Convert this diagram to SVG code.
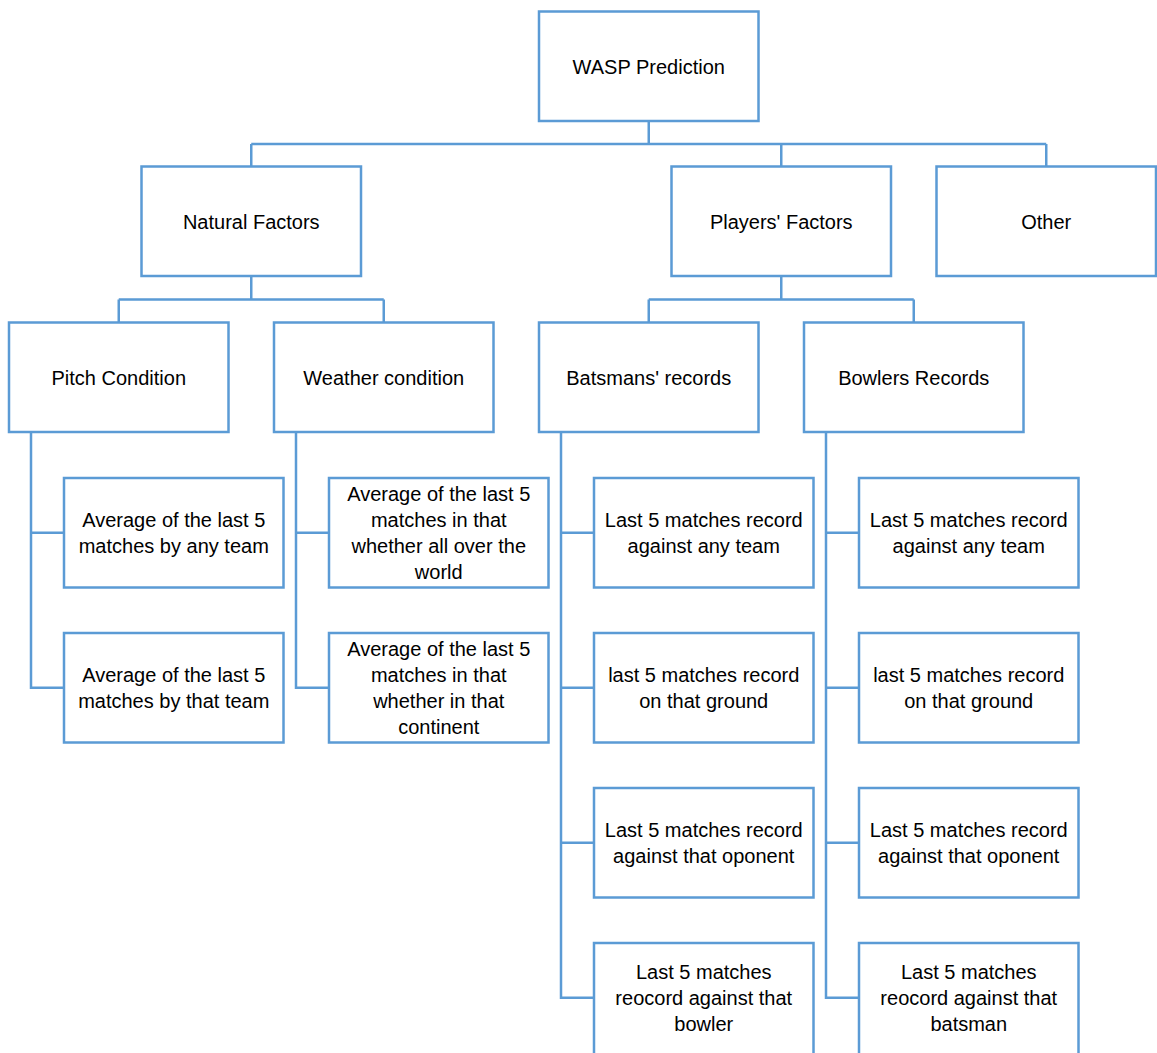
<svg xmlns="http://www.w3.org/2000/svg" width="1157" height="1053" viewBox="0 0 1157 1053">
<style>
.box{fill:#fff;stroke:#5B9BD5;stroke-width:2.5}
.conn{fill:none;stroke:#5B9BD5;stroke-width:2.5}
text{font-family:"Liberation Sans",Arial,sans-serif;font-size:20px;fill:#000;text-anchor:middle}
</style>
<rect width="1157" height="1053" fill="#fff"/>
<g id="connectors">
<path class="conn" d="M648.75 121 V144 M251.25 144 H1046.25 M251.25 144 V166.5 M781.25 144 V166.5 M1046.25 144 V166.5"/>
<path class="conn" d="M251.25 276 V299.5 M118.75 299.5 H383.75 M118.75 299.5 V322.5 M383.75 299.5 V322.5"/>
<path class="conn" d="M781.25 276 V299.5 M648.75 299.5 H913.75 M648.75 299.5 V322.5 M913.75 299.5 V322.5"/>
<path class="conn" d="M31 432 V687.75 H64 M31 532.75 H64"/>
<path class="conn" d="M296 432 V687.75 H329 M296 532.75 H329"/>
<path class="conn" d="M561 432 V997.75 H594 M561 532.75 H594 M561 687.75 H594 M561 842.75 H594"/>
<path class="conn" d="M826 432 V997.75 H859 M826 532.75 H859 M826 687.75 H859 M826 842.75 H859"/>
</g>
<g id="wasp"><rect class="box" x="539" y="11.5" width="219.5" height="109.5"/><text x="648.75" y="73.5">WASP Prediction</text></g>
<g id="natural"><rect class="box" x="141.5" y="166.5" width="219.5" height="109.5"/><text x="251.25" y="228.5">Natural Factors</text></g>
<g id="players"><rect class="box" x="671.5" y="166.5" width="219.5" height="109.5"/><text x="781.25" y="228.5">Players' Factors</text></g>
<g id="other"><rect class="box" x="936.5" y="166.5" width="219.5" height="109.5"/><text x="1046.25" y="228.5">Other</text></g>
<g id="pitch"><rect class="box" x="9" y="322.5" width="219.5" height="109.5"/><text x="118.75" y="384.5">Pitch Condition</text></g>
<g id="weather"><rect class="box" x="274" y="322.5" width="219.5" height="109.5"/><text x="383.75" y="384.5">Weather condition</text></g>
<g id="batsmans"><rect class="box" x="539" y="322.5" width="219.5" height="109.5"/><text x="648.75" y="384.5">Batsmans' records</text></g>
<g id="bowlers"><rect class="box" x="804" y="322.5" width="219.5" height="109.5"/><text x="913.75" y="384.5">Bowlers Records</text></g>
<g id="pitch1"><rect class="box" x="64" y="478" width="219.5" height="109.5"/><text x="173.75" y="526.5">Average of the last 5</text><text x="173.75" y="552.5">matches by any team</text></g>
<g id="pitch2"><rect class="box" x="64" y="633" width="219.5" height="109.5"/><text x="173.75" y="681.5">Average of the last 5</text><text x="173.75" y="707.5">matches by that team</text></g>
<g id="weather1"><rect class="box" x="329" y="478" width="219.5" height="109.5"/><text x="438.75" y="500.5">Average of the last 5</text><text x="438.75" y="526.5">matches in that</text><text x="438.75" y="552.5">whether all over the</text><text x="438.75" y="578.5">world</text></g>
<g id="weather2"><rect class="box" x="329" y="633" width="219.5" height="109.5"/><text x="438.75" y="655.5">Average of the last 5</text><text x="438.75" y="681.5">matches in that</text><text x="438.75" y="707.5">whether in that</text><text x="438.75" y="733.5">continent</text></g>
<g id="bat1"><rect class="box" x="594" y="478" width="219.5" height="109.5"/><text x="703.75" y="526.5">Last 5 matches record</text><text x="703.75" y="552.5">against any team</text></g>
<g id="bat2"><rect class="box" x="594" y="633" width="219.5" height="109.5"/><text x="703.75" y="681.5">last 5 matches record</text><text x="703.75" y="707.5">on that ground</text></g>
<g id="bat3"><rect class="box" x="594" y="788" width="219.5" height="109.5"/><text x="703.75" y="836.5">Last 5 matches record</text><text x="703.75" y="862.5">against that oponent</text></g>
<g id="bat4"><rect class="box" x="594" y="943" width="219.5" height="114"/><text x="703.75" y="979">Last 5 matches</text><text x="703.75" y="1005">reocord against that</text><text x="703.75" y="1031">bowler</text></g>
<g id="bowl1"><rect class="box" x="859" y="478" width="219.5" height="109.5"/><text x="968.75" y="526.5">Last 5 matches record</text><text x="968.75" y="552.5">against any team</text></g>
<g id="bowl2"><rect class="box" x="859" y="633" width="219.5" height="109.5"/><text x="968.75" y="681.5">last 5 matches record</text><text x="968.75" y="707.5">on that ground</text></g>
<g id="bowl3"><rect class="box" x="859" y="788" width="219.5" height="109.5"/><text x="968.75" y="836.5">Last 5 matches record</text><text x="968.75" y="862.5">against that oponent</text></g>
<g id="bowl4"><rect class="box" x="859" y="943" width="219.5" height="114"/><text x="968.75" y="979">Last 5 matches</text><text x="968.75" y="1005">reocord against that</text><text x="968.75" y="1031">batsman</text></g>
</svg>
